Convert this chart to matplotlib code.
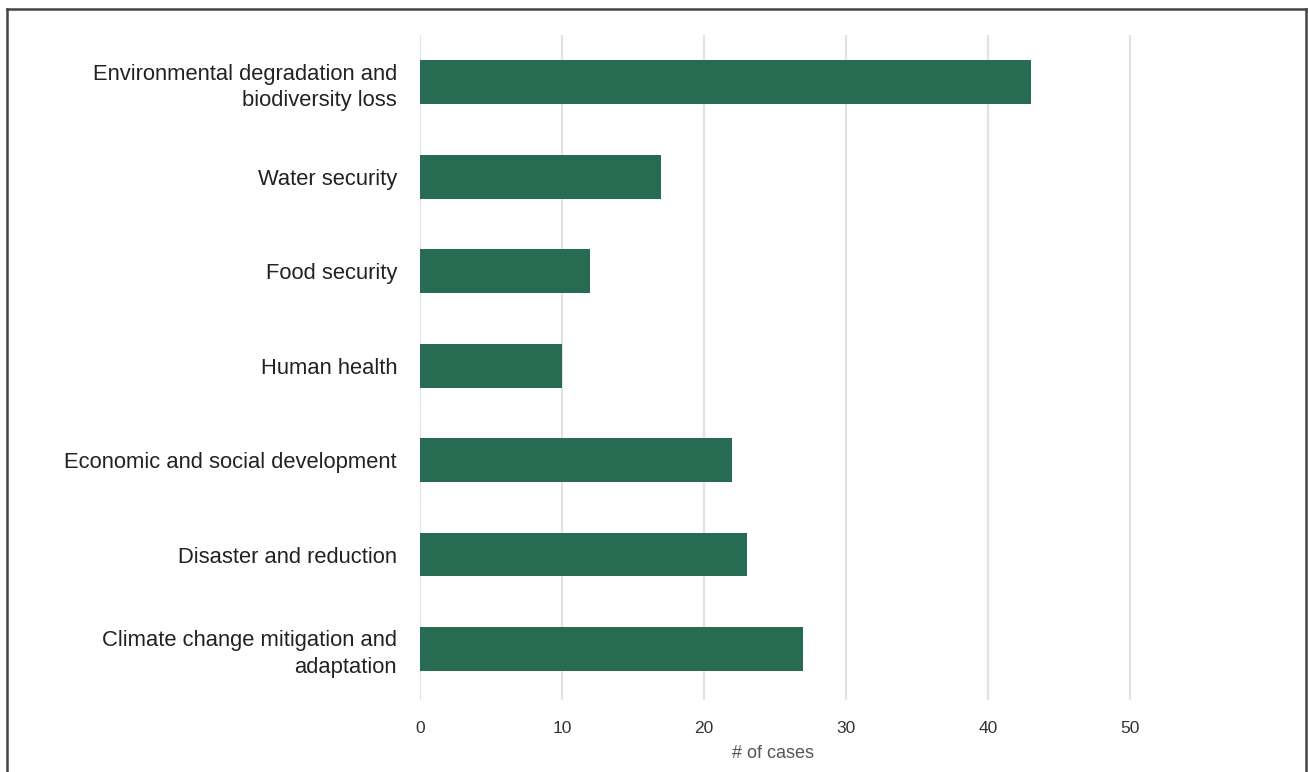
import matplotlib
matplotlib.use("Agg")
import matplotlib.pyplot as plt
from matplotlib.lines import Line2D

categories = [
    "Environmental degradation and\nbiodiversity loss",
    "Water security",
    "Food security",
    "Human health",
    "Economic and social development",
    "Disaster and reduction",
    "Climate change mitigation and\nadaptation",
]
values = [43, 17, 12, 10, 22, 23, 27]
xticks = [0, 10, 20, 30, 40, 50]

plt.rcParams['font.family'] = ['Liberation Sans', 'DejaVu Sans']

W, H = 1308, 772
fig = plt.figure(figsize=(W / 100, H / 100), dpi=100)
ax = fig.add_axes([420 / W, 1 - 700 / H, (1272 - 420) / W, (700 - 35) / H])

y = list(range(len(categories)))
ax.barh(y, values, height=0.465, color="#276b52", zorder=3)
ax.set_xlim(0, 60)
ax.set_ylim(6.54, -0.5)
ax.set_xticks(xticks)
ax.set_yticks(y)
ax.set_yticklabels(categories, fontsize=15.8, color="#222222", linespacing=1.32)
ax.set_xticklabels([str(t) for t in xticks], fontsize=12.5, color="#333333")
ax.tick_params(axis="y", length=0, pad=16.5)
ax.tick_params(axis="x", length=0, pad=15)
ax.grid(axis="x", color="#e3e3e3", linewidth=1.6, zorder=0)
for s in ax.spines.values():
    s.set_visible(False)
ax.set_xlabel("# of cases", fontsize=13, color="#555555")
ax.xaxis.set_label_coords((773 - 420) / (1272 - 420), -(753 - 700) / (700 - 35))
ax.xaxis.label.set_va("center")

# outer frame
fx0, fx1 = 7 / W, 1306 / W
fy1 = 1 - 9 / H
for xs, ys in [([fx0, fx0], [0, fy1]), ([fx0, fx1], [fy1, fy1]), ([fx1, fx1], [fy1, 0])]:
    fig.add_artist(Line2D(xs, ys, color="#444444", linewidth=1.8, transform=fig.transFigure))

fig.savefig("out.png", dpi=100)
